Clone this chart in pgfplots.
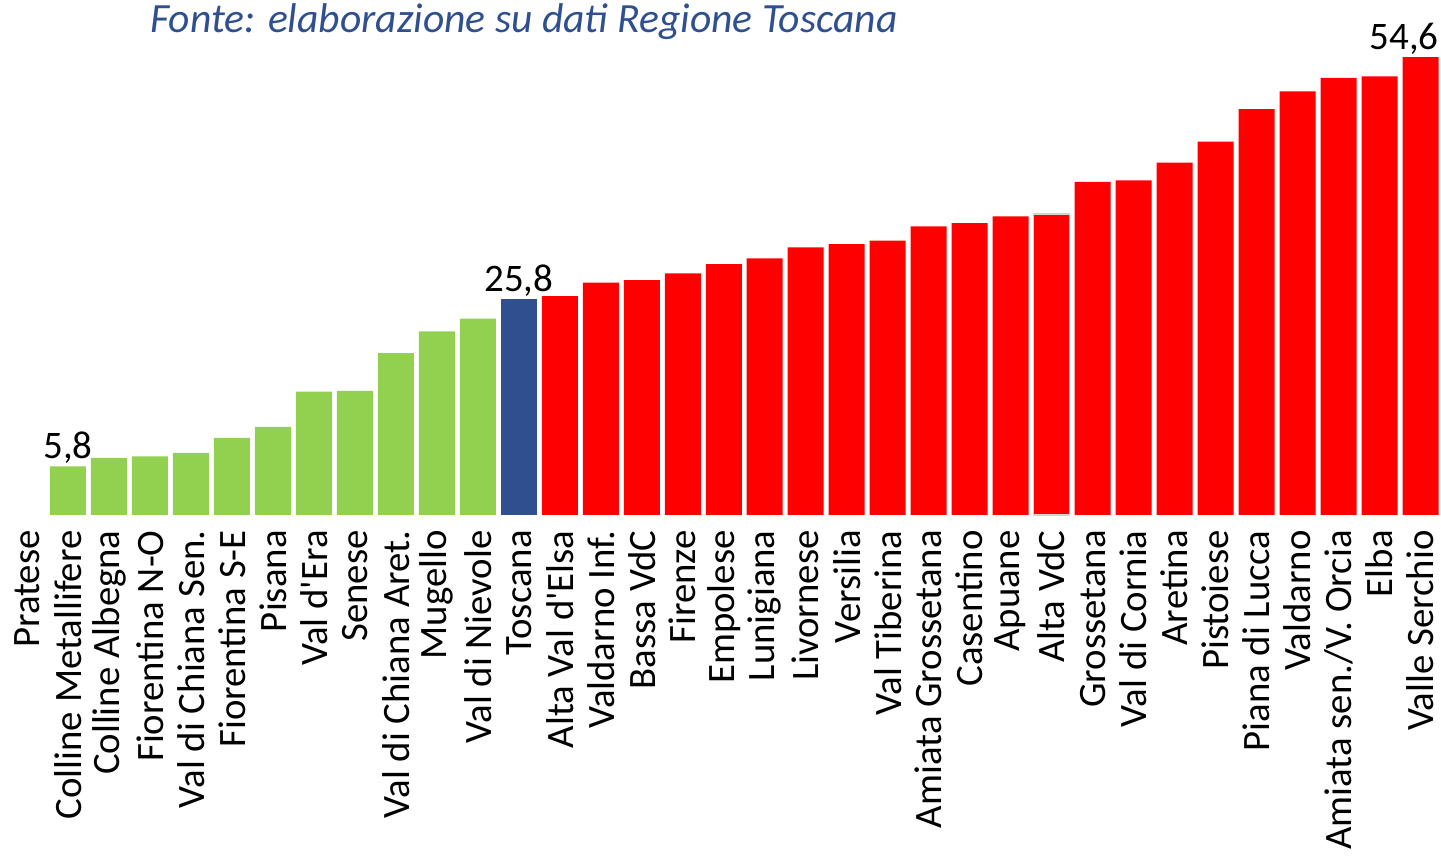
\documentclass[border=0pt]{standalone}
\usepackage{fontspec}
\setmainfont{Carlito}
\usepackage{pgfplots}
\pgfplotsset{compat=1.18}
\definecolor{verde}{HTML}{92D050}
\definecolor{rosso}{HTML}{FF0000}
\definecolor{blu}{HTML}{2F4F8F}

\begin{document}
\begin{tikzpicture}
\begin{axis}[
  name=ax,
  x=20.5pt, y=4.195pt,
  xmin=-0.5, xmax=34.5, ymin=0, ymax=61.4,
  ybar, bar width=18pt,
  axis line style={draw=none},
  major tick length=0pt,
  ytick=\empty,
  xtick={0,...,34},
  xticklabels={Pratese, Colline Metallifere, Colline Albegna, Fiorentina N-O,
    Val di Chiana Sen., Fiorentina S-E, Pisana, Val d\textquotesingle Era, Senese,
    Val di Chiana Aret., Mugello, Val di Nievole, Toscana, Alta Val d\textquotesingle Elsa,
    Valdarno Inf., Bassa VdC, Firenze, Empolese, Lunigiana, Livornese,
    Versilia, Val Tiberina, Amiata Grossetana, Casentino, Apuane, Alta VdC,
    Grossetana, Val di Cornia, Aretina, Pistoiese, Piana di Lucca, Valdarno,
    Amiata sen./V. Orcia, Elba, Valle Serchio},
  xticklabel shift=7.5pt,
  xticklabel style={rotate=90, anchor=east, inner sep=0pt,
    font=\fontsize{19.4}{20}\selectfont},
  clip=false,
]
% zone sotto la media toscana
\addplot[fill=verde, draw=none, bar shift=0pt] coordinates {
  (1,5.8) (2,6.8) (3,7.0) (4,7.4) (5,9.2) (6,10.5)
  (7,14.7) (8,14.8) (9,19.3) (10,21.9) (11,23.4)};
% Toscana
\addplot[fill=blu, draw=none, bar shift=0pt] coordinates {(12,25.8)};
% zone sopra la media
\addplot[fill=rosso, draw=none, bar shift=0pt] coordinates {
  (13,26.1) (14,27.7) (15,28.0) (16,28.8) (17,29.9) (18,30.6)
  (19,31.9) (20,32.3) (21,32.7) (22,34.4) (23,34.8) (24,35.6)
  (26,39.7) (27,39.9) (28,42.0) (29,44.5) (30,48.4) (31,50.5)
  (32,52.1) (33,52.3) (34,54.6)};
\addplot[fill=rosso, draw=gray!35, line width=0.8pt, bar shift=0pt] coordinates {(25,35.9)};

\node[anchor=south, inner sep=1pt, font=\fontsize{19.5}{20}\selectfont] at (axis cs:1,5.8) {5,8};
\node[anchor=south, inner sep=1pt, font=\fontsize{19.5}{20}\selectfont] at (axis cs:12,25.8) {25,8};
\node[anchor=south east, inner sep=1pt, font=\fontsize{19.5}{20}\selectfont] at (axis cs:34.5,54.6) {54,6};
\end{axis}
\node[anchor=west, inner sep=0pt, text=blu, font=\fontsize{20.8}{24}\selectfont\itshape]
  at ([xshift=71.75pt, yshift=-11pt]ax.north west) {Fonte: elaborazione su dati Regione Toscana};
\pgfresetboundingbox
\path[use as bounding box] ([xshift=-3.25pt,yshift=-170.5pt]ax.south west) rectangle (ax.north east);
\end{tikzpicture}
\end{document}
